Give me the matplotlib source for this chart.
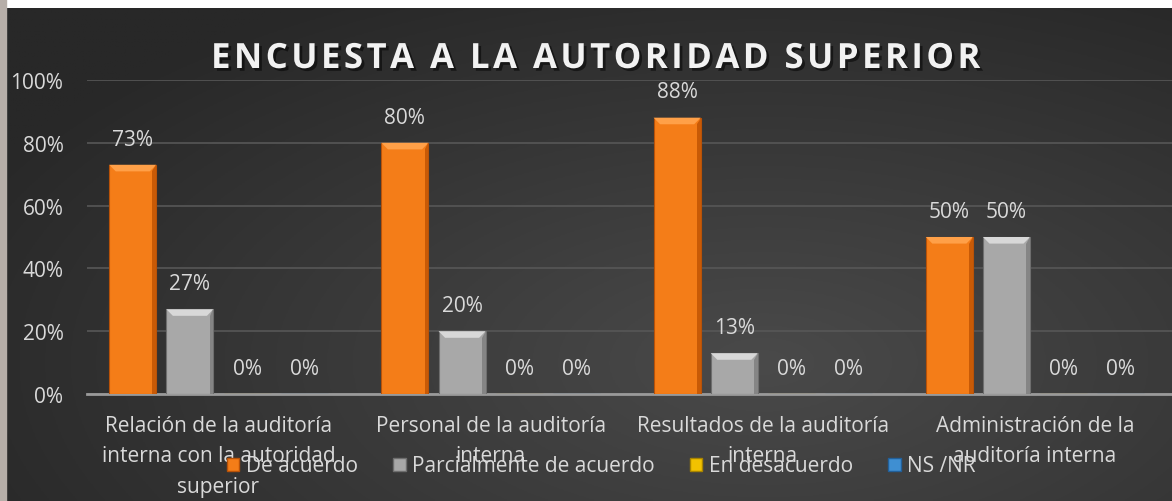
import numpy as np
import matplotlib.pyplot as plt
from matplotlib.patches import Rectangle, Patch, Polygon
import matplotlib.patheffects as pe

categorias = ['Relación de la auditoría\ninterna con la autoridad\nsuperior',
              'Personal de la auditoría\ninterna',
              'Resultados de la auditoría\ninterna',
              'Administración de la\nauditoría interna']
series = ['De acuerdo', 'Parcialmente de acuerdo', 'En desacuerdo', 'NS /NR']
de_acuerdo = [73, 80, 88, 50]
parcialmente = [27, 20, 13, 50]
en_desacuerdo = [0, 0, 0, 0]
ns_nr = [0, 0, 0, 0]
titulo = 'ENCUESTA A LA AUTORIDAD SUPERIOR'
colores = ['#f47d18', '#a8a8a8', '#f2c200', '#3f8fd2']
bordes = ['#b85208', '#6e6e6e', '#a88400', '#22609a']
brillo = ['#ffa048', '#d8d8d8', '#ffe066', '#7fc0f0']
sombra = ['#c85a06', '#858585', '#c09000', '#2a6aa8']

FUENTE = 'Open Sans'
TXT = '#d9d9d9'
FS = 15
W, H = 1172, 502
fig = plt.figure(figsize=(W / 100, H / 100), dpi=100)
fig.patch.set_facecolor('white')

# fondo: banda gris izquierda y panel oscuro con degradado
bg = fig.add_axes([0, 0, 1, 1], zorder=-10)
bg.set_xlim(0, W)
bg.set_ylim(0, H)
bg.axis('off')
bg.add_patch(Rectangle((0, 0), 6, H, color='#b6aea8'))
u = np.linspace(0, 1, 400)
v = np.linspace(0, 1, 200)
U, V = np.meshgrid(u, v)
d = np.sqrt(((U - 0.65) / 0.75) ** 2 + ((V - 0.72) / 0.85) ** 2)
val = (0x4a - (0x4a - 0x28) * np.clip(d, 0, 1)) / 255
img = np.dstack([val, val, val])
bg.imshow(img, extent=[6, W, 0, H - 9], origin='upper', aspect='auto')

ax = fig.add_axes([87 / W, 1 - 395 / H, 1 - 87 / W, 314 / H])
ax.patch.set_alpha(0)

x = np.arange(len(categorias))
paso = 0.21
ancho = 0.173
bx, by = 0.024, 2.1  # tamaño del bisel (unos 6-7 px)
datos = [de_acuerdo, parcialmente, en_desacuerdo, ns_nr]
for j, vals in enumerate(datos):
    pos = x + (j - 1.5) * paso
    ax.bar(pos, vals, ancho, color=colores[j], edgecolor=bordes[j], linewidth=0.8, zorder=3)
    for p, val_ in zip(pos, vals):
        if val_ > 0:
            l, r = p - ancho / 2, p + ancho / 2
            ax.add_patch(Polygon([(l, val_), (r, val_), (r - bx, val_ - by), (l + bx, val_ - by)],
                                 closed=True, facecolor=brillo[j], edgecolor='none', zorder=4))
            ax.add_patch(Polygon([(r, val_), (r, 0), (r - bx * 0.6, 0), (r - bx * 0.6, val_ - by)],
                                 closed=True, facecolor=sombra[j], edgecolor='none', zorder=4))
        ax.annotate(f'{val_}%', (p, val_), xytext=(0, 18.5), textcoords='offset points',
                    ha='center', va='center', color=TXT, fontsize=FS, family=FUENTE)

ax.set_ylim(0, 100)
ax.set_xlim(-0.483, 3.503)
ax.set_yticks(np.arange(0, 101, 20))
ax.set_yticklabels([f'{t}%' for t in range(0, 101, 20)], color=TXT, fontsize=FS, family=FUENTE)
ax.set_xticks(x)
ax.set_xticklabels(categorias, color=TXT, fontsize=FS, family=FUENTE, linespacing=1.6)
ax.tick_params(axis='both', length=0)
ax.tick_params(axis='y', pad=17)
ax.tick_params(axis='x', pad=15)
ax.grid(axis='y', color='#575757', linewidth=1.2, zorder=0)
for s in ['top', 'right', 'left']:
    ax.spines[s].set_visible(False)
ax.spines['bottom'].set_color('#9a9a9a')
ax.spines['bottom'].set_linewidth(2)

# título con espaciado entre letras
titulo_esp = '\u200a'.join(titulo)
fig.text(0.509, 1 - 60 / H, titulo_esp, ha='center', va='center',
         color='#f2f2f2', fontsize=25, fontweight='bold', family=[FUENTE, 'DejaVu Sans'],
         path_effects=[pe.withSimplePatchShadow(offset=(2, -2), shadow_rgbFace='black', alpha=0.5)])

handles = [Patch(facecolor=colores[j], edgecolor=bordes[j]) for j in range(4)]
fig.legend(handles, series, loc='center', bbox_to_anchor=(0.513, 1 - 467 / H), ncol=4,
           frameon=False, handlelength=0.6, handleheight=0.6, handletextpad=0.3,
           columnspacing=1.7, prop={'family': FUENTE, 'size': FS}, labelcolor=TXT)

fig.savefig('out.png', dpi=100, facecolor=fig.get_facecolor())
